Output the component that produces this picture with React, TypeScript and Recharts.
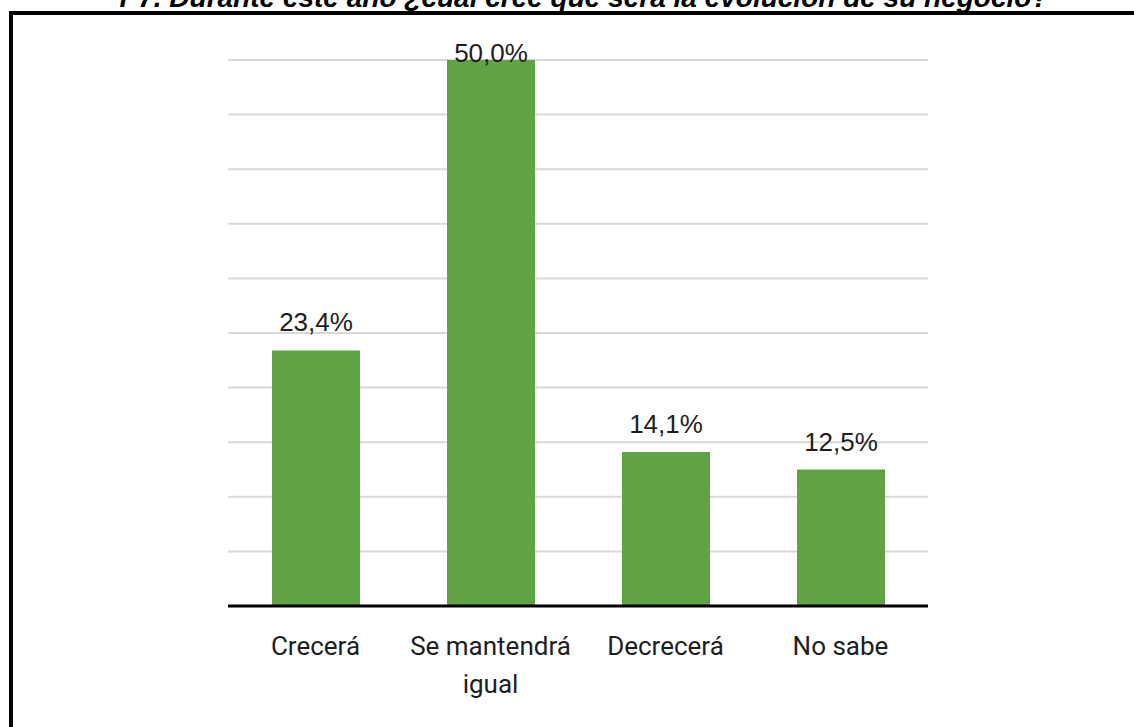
import { BarChart, Bar, XAxis, YAxis, CartesianGrid, LabelList } from 'recharts'

const categories = ['Crecerá', 'Se mantendrá igual', 'Decrecerá', 'No sabe']
const values = [23.4, 50.0, 14.1, 12.5]
const yTicks = [0, 5, 10, 15, 20, 25, 30, 35, 40, 45, 50]

const data = categories.map((name, i) => ({ name, value: values[i] }))

const W = 1134
const H = 727
const PLOT_TOP = 60
const GREEN = '#60a245'

function wrap(label: string): string[] {
  if (label.length <= 12) return [label]
  const cut = label.lastIndexOf(' ')
  return [label.slice(0, cut), label.slice(cut + 1)]
}

function CategoryTick(props: any) {
  const { x, y, payload } = props
  const lines = wrap(String(payload.value))
  return (
    <text
      x={x}
      y={y}
      textAnchor="middle"
      fill="#1e1e1e"
      style={{ fontFamily: 'Roboto, sans-serif', fontSize: 26 }}
    >
      {lines.map((l, i) => (
        <tspan key={i} x={x} dy={i === 0 ? 41 : 38}>
          {l}
        </tspan>
      ))}
    </text>
  )
}

function ValueLabel(props: any) {
  const { x, y, width, value } = props
  const ty = Math.max(y - 19, PLOT_TOP + 2)
  return (
    <text
      x={x + width / 2}
      y={ty}
      textAnchor="middle"
      fill="#1e1e1e"
      style={{ fontFamily: '"Liberation Sans", Arial, sans-serif', fontSize: 26 }}
    >
      {value.toFixed(1).replace('.', ',')}%
    </text>
  )
}

export default function App() {
  return (
    <div
      style={{
        position: 'fixed',
        left: 0,
        top: 0,
        width: W,
        height: H,
        overflow: 'hidden',
        background: '#fff',
      }}
    >
      <div
        style={{
          position: 'absolute',
          left: 17,
          top: -16,
          width: W,
          textAlign: 'center',
          fontFamily: '"Liberation Sans", Arial, sans-serif',
          fontWeight: 'bold',
          fontStyle: 'italic',
          fontSize: 28,
          lineHeight: 1,
          color: '#000',
          whiteSpace: 'nowrap',
        }}
      >
        P7. Durante este año ¿cuál cree que será la evolución de su negocio?
      </div>
      <div
        style={{
          position: 'absolute',
          left: 9,
          top: 11,
          width: W + 20,
          height: H + 20,
          borderLeft: '4px solid #000',
          borderTop: '4px solid #000',
        }}
      />
      <div style={{ position: 'absolute', left: 0, top: 0 }}>
        <BarChart
          width={W}
          height={H}
          data={data}
          margin={{ top: PLOT_TOP, right: 206, left: 228, bottom: 61 }}
        >
          <CartesianGrid vertical={false} stroke="#d9d9d9" strokeWidth={2} />
          <YAxis hide domain={[0, 50]} ticks={yTicks} width={0} />
          <XAxis
            dataKey="name"
            height={60}
            axisLine={{ stroke: '#000', strokeWidth: 3 }}
            tickLine={false}
            interval={0}
            tick={<CategoryTick />}
          />
          <Bar dataKey="value" fill={GREEN} barSize={88} isAnimationActive={false}>
            <LabelList dataKey="value" content={<ValueLabel />} />
          </Bar>
        </BarChart>
      </div>
    </div>
  )
}
